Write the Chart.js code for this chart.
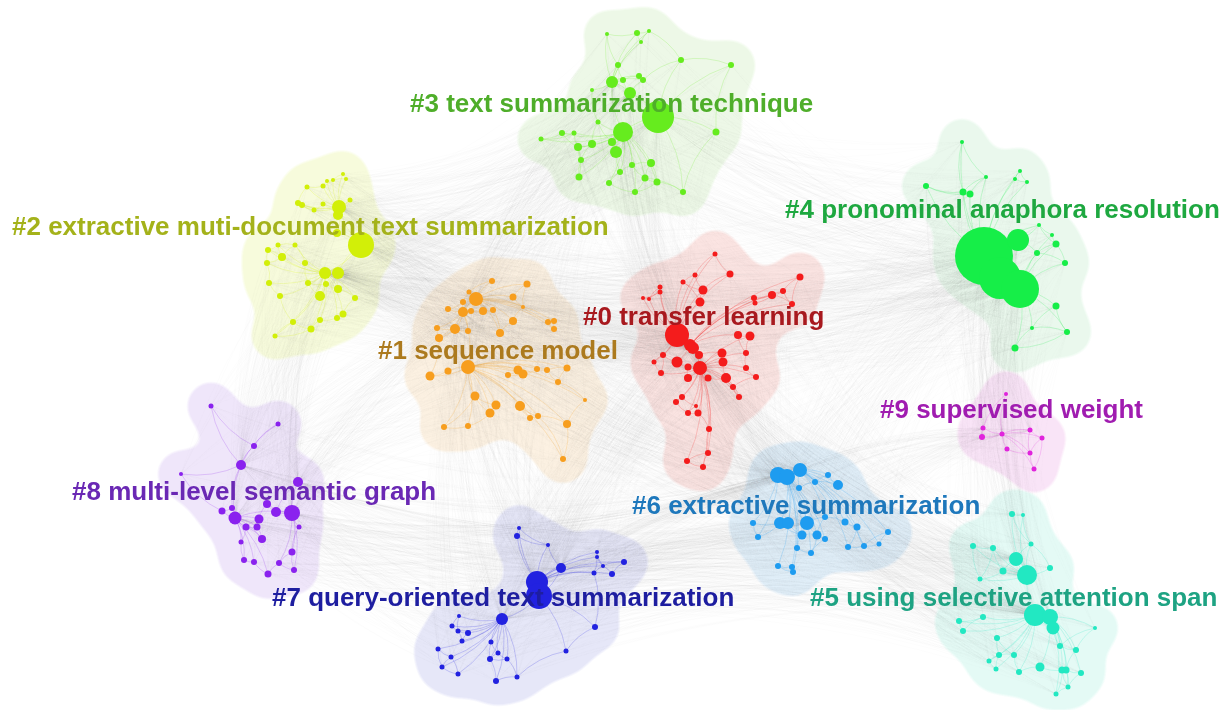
<!DOCTYPE html>
<html>
<head>
<meta charset="utf-8">
<script src="https://cdn.jsdelivr.net/npm/chart.js@4.4.1/dist/chart.umd.min.js"></script>
<style>
  html, body { margin: 0; padding: 0; background: #ffffff; }
  #wrap { width: 1231px; height: 710px; position: relative; }
</style>
</head>
<body>
<div id="wrap"><canvas id="net"></canvas></div>
<script>
// Co-citation clusters: each node is [x, y, radius] in layout space (0..1231 x 0..710).
const c0 = [[715,254,2.5],[695,275,2.5],[730,274,3.5],[800,277,3.5],[683,282,2.5],[660,287,2.5],[660,292,2.5],[703,290,4.5],[643,298,2],[649,299,2],[700,302,4.5],[754,298,3],[772,295,4],[783,291,3],[792,304,3],[755,303,2.5],[677,335,12],[690,345,6],[738,335,4],[750,336,4.5],[663,355,3],[693,348,6],[699,355,4],[722,353,4.5],[746,353,3],[677,362,5.5],[654,362,2.5],[723,362,4.5],[688,367,3.5],[700,368,7],[746,368,3],[661,373,3],[688,378,4],[708,378,3.5],[726,378,5],[756,377,3],[733,387,3],[682,397,3],[739,397,3],[676,402,3],[696,406,2],[688,413,3],[698,413,3.5],[709,429,3],[708,453,3],[687,461,3],[703,467,3]];
const c1 = [[492,281,3],[527,284,3.5],[469,292,2.5],[476,299,7],[513,297,3.5],[463,302,3],[448,309,3],[463,312,5],[471,311,3],[483,311,4],[493,310,3],[523,307,2],[513,321,4],[548,322,3],[554,321,3],[554,329,3],[437,328,3],[455,329,5],[468,331,3],[500,333,4],[439,338,4],[468,367,7],[430,376,4.5],[448,371,3.5],[508,375,3],[518,370,4.5],[523,374,4.5],[537,369,3],[547,370,3],[567,368,3.5],[558,382,3],[475,396,4.5],[496,405,4.5],[520,406,5],[490,413,4.5],[530,418,3],[538,416,3],[585,400,2],[444,427,3],[468,426,3],[567,424,4],[563,459,3]];
const c2 = [[343,174,2],[327,181,2],[333,180,2],[346,179,2],[307,187,2.5],[323,186,2.5],[298,203,3],[302,205,3],[314,210,2.5],[323,204,2.5],[339,207,7],[350,200,2.5],[338,215,5],[361,245,13],[337,233,4],[268,250,3],[278,245,2.5],[282,257,4],[295,245,2.5],[267,263,3],[305,263,3],[325,273,6],[338,273,6],[269,283,3],[308,283,3],[326,284,3],[320,296,5],[338,289,4],[280,296,3],[355,298,3],[293,322,3],[320,320,3],[343,314,3.5],[337,318,3],[311,329,3.5],[275,336,2.5]];
const c3 = [[607,34,2],[637,33,3],[649,31,2],[641,42,2],[618,65,3],[681,60,3],[731,65,3],[612,82,6],[623,80,3],[639,76,3],[643,80,3],[630,93,6],[658,117,16],[623,132,10],[541,139,2.5],[562,133,3],[574,133,2.5],[578,147,4],[592,144,4],[612,142,4],[616,152,6],[598,122,2.5],[592,90,2],[716,132,3.5],[581,160,3],[632,165,3],[651,163,4],[620,172,3],[579,177,3.5],[609,183,3],[645,178,3.5],[657,182,3.5],[635,192,3],[683,192,3]];
const c4 = [[962,142,2],[986,177,2],[1020,171,2],[1015,179,2],[1027,182,2],[926,186,3],[963,192,3.5],[970,194,3.5],[1039,225,2],[1052,235,2],[1056,244,3.5],[1037,253,3],[1065,263,3],[984,256,29],[1000,278,21],[1020,289,19],[1018,240,11],[1056,306,3.5],[1032,328,2],[1067,332,3],[1015,348,3.5]];
const c5 = [[1012,514,3],[1023,515,2],[973,546,3],[993,548,3],[1031,544,2.5],[1016,559,7],[1003,571,3.5],[1027,575,10],[1050,568,3],[980,579,2.5],[1035,615,11],[1050,617,8],[1053,628,6.5],[959,621,3],[983,617,3],[963,631,3],[997,638,3],[1095,628,2],[1060,646,3],[1076,650,3],[999,655,3],[1014,655,3],[989,661,2.5],[1040,667,4.5],[1062,670,3.5],[1066,670,3.5],[996,669,2.5],[1019,672,3],[1081,673,3],[1068,687,2.5],[1056,694,2.5]];
const c6 = [[778,475,8],[787,477,8],[800,470,7],[828,475,3],[815,482,3],[838,485,5],[799,488,3],[780,523,6],[788,523,6],[807,523,7],[753,523,3],[825,517,3],[845,522,3.5],[857,527,3.5],[888,532,3],[758,537,3],[802,535,4.5],[817,535,4.5],[825,539,3],[797,548,3],[848,547,3],[864,546,3],[879,544,2.5],[811,553,3],[778,566,3],[792,567,3],[793,572,3]];
const c7 = [[519,528,2],[517,536,3],[548,545,2],[561,568,5],[597,552,2],[597,557,2],[603,566,2],[624,562,3],[594,573,2.5],[612,574,3],[537,582,11],[539,596,13],[502,619,6],[459,616,2],[452,626,2.5],[458,631,2.5],[468,633,3],[462,641,2.5],[491,642,2.5],[595,627,3],[438,649,2.5],[451,657,2.5],[442,667,2.5],[498,653,2.5],[490,659,3],[507,659,2.5],[566,651,2.5],[458,674,2.5],[517,677,2.5],[496,681,3]];
const c8 = [[211,406,2.5],[278,424,2.5],[254,446,3],[241,465,5],[181,474,2],[298,482,5],[267,504,4],[222,511,3.5],[235,518,6.5],[232,508,3],[259,519,4.5],[276,512,5],[292,513,8],[246,527,3.5],[257,527,3.5],[299,527,2.5],[241,542,2.5],[262,539,4],[292,552,3.5],[244,560,3],[254,562,3],[279,563,3],[294,570,3],[268,574,3.5]];
const c9 = [[1006,394,2],[983,428,2.5],[982,437,3],[1002,434,2.5],[1030,430,2.5],[1042,438,2.5],[1007,449,2.5],[1030,453,2.5],[1034,469,2.5]];

const clusters = [c0, c1, c2, c3, c4, c5, c6, c7, c8, c9];

// Cluster labels, their anchor (left x, middle y) and colours
const clusterLabels = [
  '#0 transfer learning',
  '#1 sequence model',
  '#2 extractive muti-document text summarization',
  '#3 text summarization technique',
  '#4 pronominal anaphora resolution',
  '#5 using selective attention span',
  '#6 extractive summarization',
  '#7 query-oriented text summarization',
  '#8 multi-level semantic graph',
  '#9 supervised weight'
];
const labelAnchors = [[583,318],[378,352],[12,228],[410,105],[785,211],[810,599],[632,507],[272,599],[72,493],[880,411]];
const nodeColors  = ['#f41c1c','#f79e1e','#d2ef08','#66ec1e','#16ee48','#22e8c2','#1e9cf0','#2222e0','#8a22ee','#e024dc'];
const hullColors  = ['#fbe1df','#fcf0df','#f6fbd8','#ebf8e4','#e7f8eb','#e1faf4','#ddedf9','#e3e4f8','#ede3fa','#f9e1f6'];
const labelColors = ['#a8191e','#ac7a1e','#a4b21a','#4fae2a','#1ea840','#1ea383','#1e78bc','#1e1ea0','#6a28b4','#a01cb0'];

// Linked cluster pairs for the background co-citation web
const clusterLinks = [[2,4],[2,3],[3,4],[0,1],[0,6],[1,8],[1,7],[0,7],[6,5],[4,5],[4,9],[0,4],[1,2],[8,7],[6,7],[0,5],[2,8],[3,0],[3,1],[4,6],[5,7],[8,6],[1,6],[9,6],[2,0]];

// --- derived structure -------------------------------------------------
function hubs(nodes, n) {
  return nodes.map((p, i) => [p[2], i]).sort((a, b) => b[0] - a[0]).slice(0, n).map(v => v[1]);
}
function innerEdges(nodes) {
  const set = new Set(), out = [];
  const add = (a, b) => { if (a === b) return; const k = a < b ? a + '-' + b : b + '-' + a; if (!set.has(k)) { set.add(k); out.push([a, b]); } };
  const top = hubs(nodes, 3);
  nodes.forEach((p, i) => {
    const d = nodes.map((q, j) => [Math.hypot(p[0] - q[0], p[1] - q[1]), j]).filter(v => v[1] !== i).sort((a, b) => a[0] - b[0]);
    d.slice(0, 2).forEach(v => add(i, v[1]));
    let best = -1, bd = 1e9;
    top.forEach(h => { const dd = Math.hypot(p[0] - nodes[h][0], p[1] - nodes[h][1]); if (h !== i && dd < bd) { bd = dd; best = h; } });
    if (best >= 0) add(i, best);
  });
  return out;
}
const clusterEdges = clusters.map(innerEdges);

function curve(ctx, x1, y1, x2, y2, bend) {
  const mx = (x1 + x2) / 2, my = (y1 + y2) / 2;
  const dx = x2 - x1, dy = y2 - y1;
  ctx.moveTo(x1, y1);
  ctx.quadraticCurveTo(mx - dy * bend, my + dx * bend, x2, y2);
}

// Smooth cluster area: union of padded nodes and links, blurred, re-thresholded, then tinted
function clusterArea(chart, nodes, edges, colour, P) {
  const W = chart.width, H = chart.height;
  const a = document.createElement('canvas'); a.width = W; a.height = H;
  const g = a.getContext('2d');
  g.fillStyle = '#000'; g.strokeStyle = '#000';
  nodes.forEach(n => { const [x, y] = P(n); g.beginPath(); g.arc(x, y, 23 + n[2], 0, Math.PI * 2); g.fill(); });
  g.lineWidth = 42; g.lineCap = 'round';
  edges.forEach(([i, j]) => {
    const [x1, y1] = P(nodes[i]), [x2, y2] = P(nodes[j]);
    g.beginPath(); g.moveTo(x1, y1); g.lineTo(x2, y2); g.stroke();
  });
  const b = document.createElement('canvas'); b.width = W; b.height = H;
  const h = b.getContext('2d');
  h.filter = 'blur(11px)';
  h.drawImage(a, 0, 0);
  h.filter = 'none';
  const img = h.getImageData(0, 0, W, H), d = img.data;
  for (let p = 0; p < d.length; p += 4) {
    let v = (d[p + 3] - 112) * 10;
    v = v < 0 ? 0 : v > 255 ? 255 : v;
    d[p] = 0; d[p + 1] = 0; d[p + 2] = 0; d[p + 3] = v;
  }
  h.putImageData(img, 0, 0);
  h.globalCompositeOperation = 'source-in';
  h.fillStyle = colour;
  h.fillRect(0, 0, W, H);
  return b;
}

const networkPlugin = {
  id: 'network',
  beforeDatasetsDraw(chart) {
    const ctx = chart.ctx, sx = chart.scales.x, sy = chart.scales.y;
    const P = p => [sx.getPixelForValue(p[0]), sy.getPixelForValue(p[1])];

    // cluster areas
    clusters.forEach((nodes, k) => {
      const area = clusterArea(chart, nodes, clusterEdges[k], hullColors[k], P);
      ctx.save(); ctx.globalAlpha = 0.88; ctx.drawImage(area, 0, 0); ctx.restore();
    });

    // faint web between clusters
    ctx.save();
    ctx.strokeStyle = 'rgba(150,150,150,0.03)';
    ctx.lineWidth = 0.6;
    clusterLinks.forEach(([a, b]) => {
      const A = clusters[a], B = clusters[b];
      const hb = hubs(B, 4), ha = hubs(A, 4);
      ctx.beginPath();
      A.forEach(p => hb.forEach(h => { const [x1, y1] = P(p), [x2, y2] = P(B[h]); curve(ctx, x1, y1, x2, y2, 0.12); }));
      B.forEach(p => ha.forEach(h => { const [x1, y1] = P(p), [x2, y2] = P(A[h]); curve(ctx, x1, y1, x2, y2, -0.12); }));
      ctx.stroke();
    });
    ctx.restore();

    // links inside each cluster
    clusters.forEach((nodes, k) => {
      ctx.save();
      ctx.strokeStyle = nodeColors[k];
      ctx.globalAlpha = 0.3;
      ctx.lineWidth = 0.7;
      ctx.beginPath();
      clusterEdges[k].forEach(([a, b]) => {
        const [x1, y1] = P(nodes[a]), [x2, y2] = P(nodes[b]);
        curve(ctx, x1, y1, x2, y2, 0.15);
      });
      ctx.stroke();
      ctx.restore();
    });
  },
  afterDatasetsDraw(chart) {
    const ctx = chart.ctx, sx = chart.scales.x, sy = chart.scales.y;
    ctx.save();
    ctx.font = 'bold 26px "Liberation Sans", Arial, sans-serif';
    ctx.textAlign = 'left';
    ctx.textBaseline = 'middle';
    clusterLabels.forEach((t, k) => {
      const a = labelAnchors[k];
      ctx.fillStyle = labelColors[k];
      ctx.fillText(t, sx.getPixelForValue(a[0]), sy.getPixelForValue(a[1]));
    });
    ctx.restore();
  }
};

new Chart(document.getElementById('net'), {
  type: 'bubble',
  data: {
    datasets: clusters.map((nodes, k) => ({
      label: clusterLabels[k],
      data: nodes.map(n => ({ x: n[0], y: n[1], r: n[2] })),
      backgroundColor: nodeColors[k],
      borderWidth: 0,
      hoverRadius: 0,
      clip: false
    }))
  },
  options: {
    responsive: true,
    maintainAspectRatio: false,
    animation: false,
    events: [],
    layout: { autoPadding: false, padding: 0 },
    plugins: { legend: { display: false }, tooltip: { enabled: false } },
    scales: {
      x: { type: 'linear', min: 0, max: 1231, display: false },
      y: { type: 'linear', min: 0, max: 710, reverse: true, display: false }
    }
  },
  plugins: [networkPlugin]
});
</script>
</body>
</html>
